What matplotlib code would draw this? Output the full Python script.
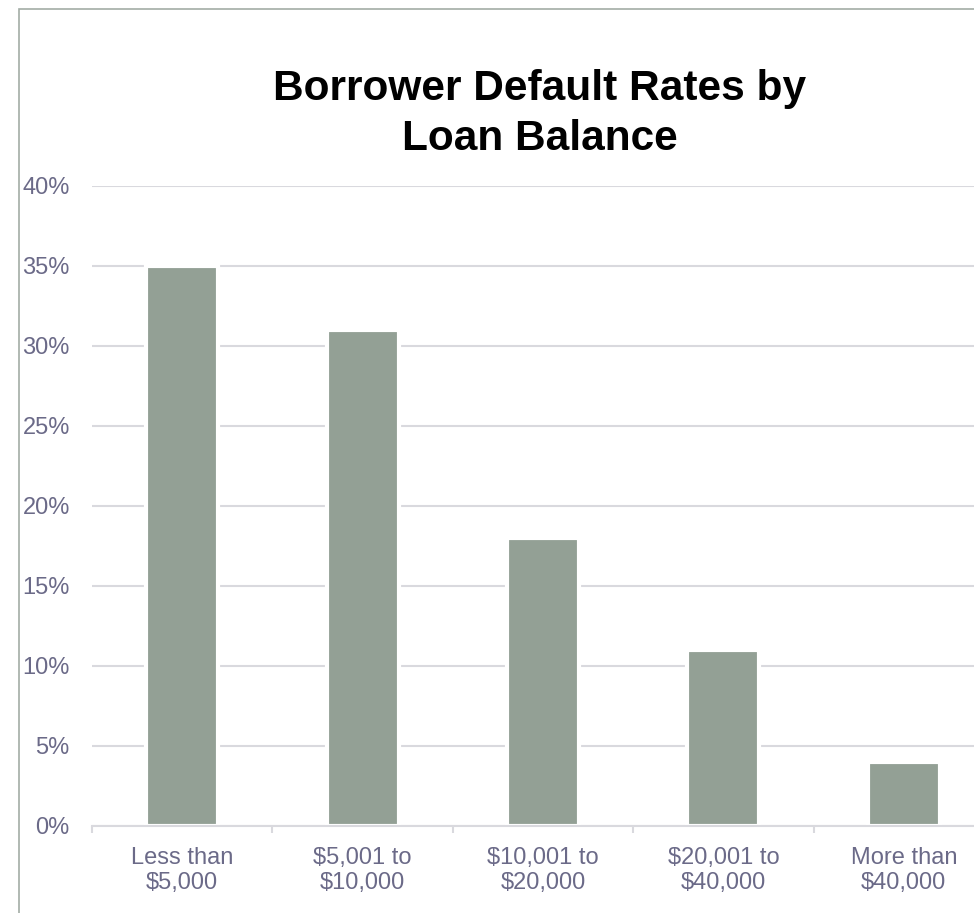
import matplotlib
matplotlib.use("Agg")
import matplotlib.pyplot as plt
from matplotlib.patches import Rectangle
from matplotlib.ticker import FixedLocator, PercentFormatter

# Data
categories = ["Less than\n$5,000", "$5,001 to\n$10,000", "$10,001 to\n$20,000",
              "$20,001 to\n$40,000", "More than\n$40,000"]
default_rates = [35, 31, 18, 11, 4]
y_ticks = [0, 5, 10, 15, 20, 25, 30, 35, 40]

BAR_COLOR = "#93A095"
GRID_COLOR = "#D9D9DE"
TEXT_COLOR = "#6B6A88"
FRAME_COLOR = "#A3ADA6"

plt.rcParams["font.family"] = ["Liberation Sans", "DejaVu Sans"]

fig = plt.figure(figsize=(9.74, 9.13), dpi=100)

# outer chart frame (cut off at right and bottom in the reference)
fig.patches.append(Rectangle((19 / 974, -0.1), 1.2, 1 - 9.3 / 913 + 0.1,
                             transform=fig.transFigure, fill=False,
                             edgecolor=FRAME_COLOR, linewidth=1.2))

ax = fig.add_axes([92 / 974, 1 - 826 / 913, (994 - 92) / 974, (826 - 185.7) / 913])
x = list(range(len(categories)))
ax.bar(x, default_rates, width=0.40, color=BAR_COLOR, edgecolor="white",
       linewidth=3, zorder=3)

ax.set_xlim(-0.5, len(categories) - 0.5)
ax.set_ylim(0, 40)
ax.yaxis.set_major_locator(FixedLocator(y_ticks))
ax.yaxis.set_major_formatter(PercentFormatter(decimals=0))
ax.grid(axis="y", color=GRID_COLOR, linewidth=1.5, zorder=0)
ax.set_axisbelow(True)

for side in ("top", "right", "left"):
    ax.spines[side].set_visible(False)
ax.spines["bottom"].set_color(GRID_COLOR)
ax.spines["bottom"].set_linewidth(1.5)
ax.spines["bottom"].set_zorder(4)

ax.set_xticks(x)
ax.set_xticklabels(categories, linespacing=1.2)
ax.set_xticks([i - 0.5 for i in range(len(categories) + 1)], minor=True)
ax.tick_params(axis="x", which="major", length=0, pad=15, labelsize=17, labelcolor=TEXT_COLOR)
ax.tick_params(axis="x", which="minor", length=5, width=1.5, color=GRID_COLOR, direction="out")
ax.tick_params(axis="y", length=0, pad=16, labelsize=17, labelcolor=TEXT_COLOR)

fig.text(540 / 974, 1 - 114 / 913, "Borrower Default Rates by\nLoan Balance",
         ha="center", va="center", fontsize=30.5, fontweight="bold",
         color="black", linespacing=1.3)

fig.savefig("out.png", dpi=100)
